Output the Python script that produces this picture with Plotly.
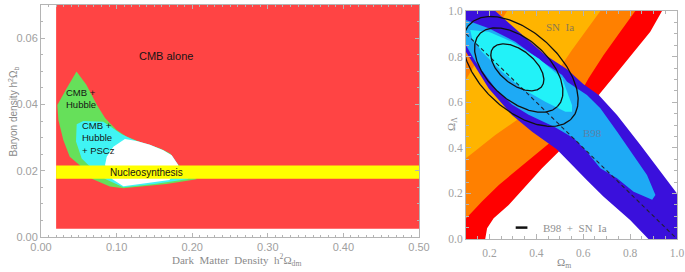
import numpy as np
import plotly.graph_objects as go

# ---------------- Left panel data (h^2 Omega_dm , h^2 Omega_b) ----------------
cmb_dm = [0.02, 0.50, 0.50, 0.02]
cmb_b = [0.0025, 0.0025, 0.070, 0.070]

hub_dm = [0.047, 0.060, 0.074, 0.085, 0.100, 0.113, 0.135, 0.157, 0.171, 0.177, 0.182,
          0.206, 0.166, 0.109, 0.091, 0.068, 0.052, 0.038, 0.0295, 0.023, 0.0216, 0.034]
hub_b = [0.0499, 0.0459, 0.0398, 0.0358, 0.0323, 0.0303, 0.0283, 0.0268, 0.0252, 0.0227, 0.0217,
         0.0174, 0.0160, 0.0147, 0.0152, 0.0175, 0.0215, 0.0242, 0.0293, 0.0353, 0.0398, 0.0449]

psc_dm = [0.0472, 0.056, 0.0824, 0.0957, 0.1067, 0.120, 0.1266, 0.144, 0.1618, 0.1729, 0.1786,
          0.1816, 0.195, 0.150, 0.109, 0.085, 0.0626, 0.0538, 0.0463]
psc_b = [0.0340, 0.0350, 0.0348, 0.0328, 0.0310, 0.0296, 0.0290, 0.0278, 0.0262, 0.0247, 0.0227,
         0.0217, 0.0175, 0.0160, 0.0150, 0.0175, 0.0217, 0.0237, 0.0288]

all_dm = [0.0957, 0.111, 0.1266, 0.144, 0.1618, 0.1729, 0.1786, 0.1816, 0.170, 0.140, 0.109,
          0.094, 0.0847, 0.0869]
all_b = [0.0272, 0.0296, 0.0290, 0.0278, 0.0262, 0.0247, 0.0227, 0.0217, 0.0172, 0.0162, 0.0153,
         0.0175, 0.0217, 0.0242]

bbn_dm = [0.02, 0.50, 0.50, 0.02]
bbn_b = [0.0176, 0.0176, 0.0216, 0.0216]

# ---------------- Right panel data (Omega_m , Omega_Lambda) ----------------
sn3_m = [0.10, 0.182, 0.19, 0.218, 0.282, 0.353, 0.424, 0.495, 0.666, 0.73, 0.815, 0.886, 0.936, 0.10]
sn3_l = [0.00, 0.00, 0.047, 0.091, 0.149, 0.23, 0.31, 0.383, 0.632, 0.712, 0.82, 0.909, 1.00, 1.00]

sn2_m = [0.10, 0.168, 0.24, 0.325, 0.41, 0.481, 0.623, 0.687, 0.758, 0.822, 0.10]
sn2_l = [0.09, 0.164, 0.237, 0.31, 0.383, 0.442, 0.705, 0.807, 0.909, 1.00, 1.00]

sn1_m = [0.10, 0.225, 0.367, 0.46, 0.552, 0.609, 0.673, 0.275, 0.10]
sn1_l = [0.354, 0.456, 0.558, 0.69, 0.829, 0.909, 1.00, 1.00, 0.70]

b3_m = [0.10, 0.10, 0.225, 0.325, 0.438, 0.531, 0.60, 0.666, 0.744, 0.844, 0.929, 0.993, 1.00,
        1.00, 0.878, 0.80, 0.686, 0.615, 0.487, 0.382, 0.296, 0.197]
b3_l = [0.82, 1.00, 1.00, 0.909, 0.807, 0.745, 0.68, 0.632, 0.544, 0.412, 0.295, 0.207, 0.20,
        0.00, 0.00, 0.083, 0.186, 0.259, 0.394, 0.47, 0.544, 0.66]

b2_m = [0.10, 0.197, 0.31, 0.424, 0.51, 0.531, 0.616, 0.673, 0.744, 0.815, 0.872, 0.908, 0.894,
        0.815, 0.744, 0.673, 0.616, 0.56, 0.48, 0.367, 0.296, 0.225, 0.14, 0.10]
b2_l = [0.96, 0.924, 0.865, 0.778, 0.719, 0.69, 0.632, 0.573, 0.471, 0.368, 0.281, 0.193, 0.172,
        0.207, 0.266, 0.31, 0.383, 0.442, 0.49, 0.545, 0.59, 0.66, 0.778, 0.85]

b1_m = [0.118, 0.197, 0.296, 0.41, 0.51, 0.531, 0.552, 0.552, 0.524, 0.438, 0.339, 0.254, 0.168, 0.126]
b1_l = [0.917, 0.909, 0.865, 0.792, 0.705, 0.646, 0.588, 0.558, 0.558, 0.602, 0.66, 0.734, 0.821, 0.88]

# combined B98 + SN Ia confidence ellipses
ell_cm = [0.319, 0.325, 0.333]
ell_cl = [0.753, 0.741, 0.735]
ell_a = [0.134, 0.230, 0.300]
ell_b = [0.074, 0.130, 0.168]
ell_ang = [40, 44, 44]

flat_m = [0.1, 1.0]
flat_l = [0.9, 0.0]

fig = go.Figure()


def poly(x, y, color, xa="x", ya="y"):
    fig.add_trace(go.Scatter(x=x, y=y, fill="toself", fillcolor=color, mode="lines",
                             line=dict(width=0, color=color), hoverinfo="skip",
                             showlegend=False, xaxis=xa, yaxis=ya))


# left panel
poly(cmb_dm, cmb_b, "#ff4444")
poly(hub_dm, hub_b, "#66e05a")
poly(psc_dm, psc_b, "#40f4f4")
poly(all_dm, all_b, "#ffffff")
poly(bbn_dm, bbn_b, "#ffff00")

# right panel
poly(sn3_m, sn3_l, "#ff0000", "x2", "y2")
poly(sn2_m, sn2_l, "#ff8000", "x2", "y2")
poly(sn1_m, sn1_l, "#ffb400", "x2", "y2")
poly(b3_m, b3_l, "#3a10dc", "x2", "y2")
poly(b2_m, b2_l, "#1eaaf5", "x2", "y2")
poly(b1_m, b1_l, "#22f2f8", "x2", "y2")

fig.add_trace(go.Scatter(x=flat_m, y=flat_l, mode="lines", xaxis="x2", yaxis="y2",
                         line=dict(color="#222233", width=1.1, dash="4px,3px"),
                         hoverinfo="skip", showlegend=False))

t = np.linspace(0, 2 * np.pi, 241)
for cm, cl, a, b, ang in zip(ell_cm, ell_cl, ell_a, ell_b, ell_ang):
    ph = np.radians(ang)
    ux, uy = np.cos(ph), -np.sin(ph)
    vx, vy = np.sin(ph), np.cos(ph)
    xs = cm + a * np.cos(t) * ux + b * np.sin(t) * vx
    ys = cl + a * np.cos(t) * uy + b * np.sin(t) * vy
    fig.add_trace(go.Scatter(x=xs, y=ys, mode="lines", xaxis="x2", yaxis="y2",
                             line=dict(color="#111111", width=1.3),
                             hoverinfo="skip", showlegend=False))

W, H = 685, 272
axcol = "#b4b4b4"
tkcol = "#a0a0a0"

common = dict(showgrid=False, zeroline=False, showline=True, linecolor=axcol, linewidth=1,
              mirror="ticks", ticks="inside", tickcolor=axcol, automargin=False)

fig.update_layout(
    template="none",
    width=W, height=H, margin=dict(l=0, r=0, t=0, b=0, pad=0),
    paper_bgcolor="white", plot_bgcolor="white",
    xaxis=dict(domain=[41 / W, 419 / W], range=[0, 0.5], tickvals=[0, 0.1, 0.2, 0.3, 0.4, 0.5],
               tickformat=".2f", ticklen=4,
               minor=dict(dtick=0.01, ticklen=2, ticks="inside", tickcolor=axcol),
               tickfont=dict(family="Liberation Sans", size=11, color=tkcol), **common),
    yaxis=dict(domain=[1 - 237 / H, 1 - 5 / H], range=[0, 0.07], tickvals=[0, 0.02, 0.04, 0.06],
               tickformat=".2f", ticklen=4,
               minor=dict(dtick=0.005, ticklen=2, ticks="inside", tickcolor=axcol),
               tickfont=dict(family="Liberation Sans", size=11, color=tkcol), **common),
    xaxis2=dict(domain=[466 / W, 677 / W], range=[0.1, 1.0], anchor="y2",
                tickvals=[0.2, 0.4, 0.6, 0.8, 1.0], tickformat=".1f", ticklen=5,
                ticklabelstandoff=3,
                minor=dict(dtick=0.05, ticklen=3, ticks="inside", tickcolor=axcol),
                tickfont=dict(family="Liberation Serif", size=11.5, color=tkcol), **common),
    yaxis2=dict(domain=[1 - 239 / H, 1 - 11 / H], range=[0, 1.0], anchor="x2",
                tickvals=[0, 0.2, 0.4, 0.6, 0.8, 1.0], tickformat=".1f", ticklen=5,
                minor=dict(dtick=0.05, ticklen=3, ticks="inside", tickcolor=axcol),
                tickfont=dict(family="Liberation Serif", size=11.5, color=tkcol), **common),
)

txt = "#151515"
ann = [
    dict(text="CMB alone", x=0.165, y=0.0546, xref="x", yref="y", showarrow=False,
         font=dict(family="Liberation Sans", size=11, color=txt)),
    dict(text="CMB +<br>Hubble", x=0.031, y=0.0418, xref="x", yref="y", showarrow=False,
         xanchor="left", align="left", font=dict(family="Liberation Sans", size=9.5, color=txt)),
    dict(text="CMB +<br>Hubble<br>+ PSCz", x=0.052, y=0.0300, xref="x", yref="y", showarrow=False,
         xanchor="left", align="left", font=dict(family="Liberation Sans", size=9.5, color=txt)),
    dict(text="Nucleosynthesis", x=0.139, y=0.0196, xref="x", yref="y", showarrow=False,
         font=dict(family="Liberation Sans", size=10, color=txt)),
    dict(text="SN  Ia", x=0.50, y=0.928, xref="x2", yref="y2", showarrow=False,
         font=dict(family="Liberation Serif", size=11, color="#8c7a50")),
    dict(text="B98", x=0.638, y=0.464, xref="x2", yref="y2", showarrow=False,
         font=dict(family="Liberation Serif", size=11, color="#5a82aa")),
    dict(text="B98  +  SN  Ia", x=0.418, y=0.05, xref="x2", yref="y2", showarrow=False,
         xanchor="left", font=dict(family="Liberation Serif", size=11, color="#909090")),
    dict(text="Dark  Matter  Density  h<sup>2</sup>Ω<sub>dm</sub>", x=236 / W, y=1 - 270 / H,
         yanchor="bottom", xref="paper", yref="paper", showarrow=False,
         font=dict(family="Liberation Serif", size=11, color="#8a8a8a")),
    dict(text="Baryon density h<sup>2</sup>Ω<sub>b</sub>", x=4 / W, y=1 - 112 / H,
         xanchor="left", xref="paper", yref="paper", showarrow=False, textangle=-90,
         font=dict(family="Liberation Sans", size=10, color="#8a8a8a")),
    dict(text="Ω<sub>m</sub>", x=573 / W, y=1 - 272 / H, yanchor="bottom", xref="paper",
         yref="paper", showarrow=False,
         font=dict(family="Liberation Serif", size=11, color="#8a8a8a")),
    dict(text="Ω<sub>Λ</sub>", x=452 / W, y=1 - 124 / H, xref="paper", yref="paper",
         showarrow=False, textangle=-90,
         font=dict(family="Liberation Serif", size=11, color="#8a8a8a")),
]
fig.update_layout(annotations=ann)

# legend sample line for the combined contours
fig.add_shape(type="line", xref="x2", yref="y2", x0=0.312, x1=0.362, y0=0.05, y1=0.05,
              line=dict(color="#111111", width=2.5))

fig.write_html("out.html", config={"displayModeBar": False, "staticPlot": True},
               post_script="document.body.style.margin='0';document.body.style.overflow='hidden';")
